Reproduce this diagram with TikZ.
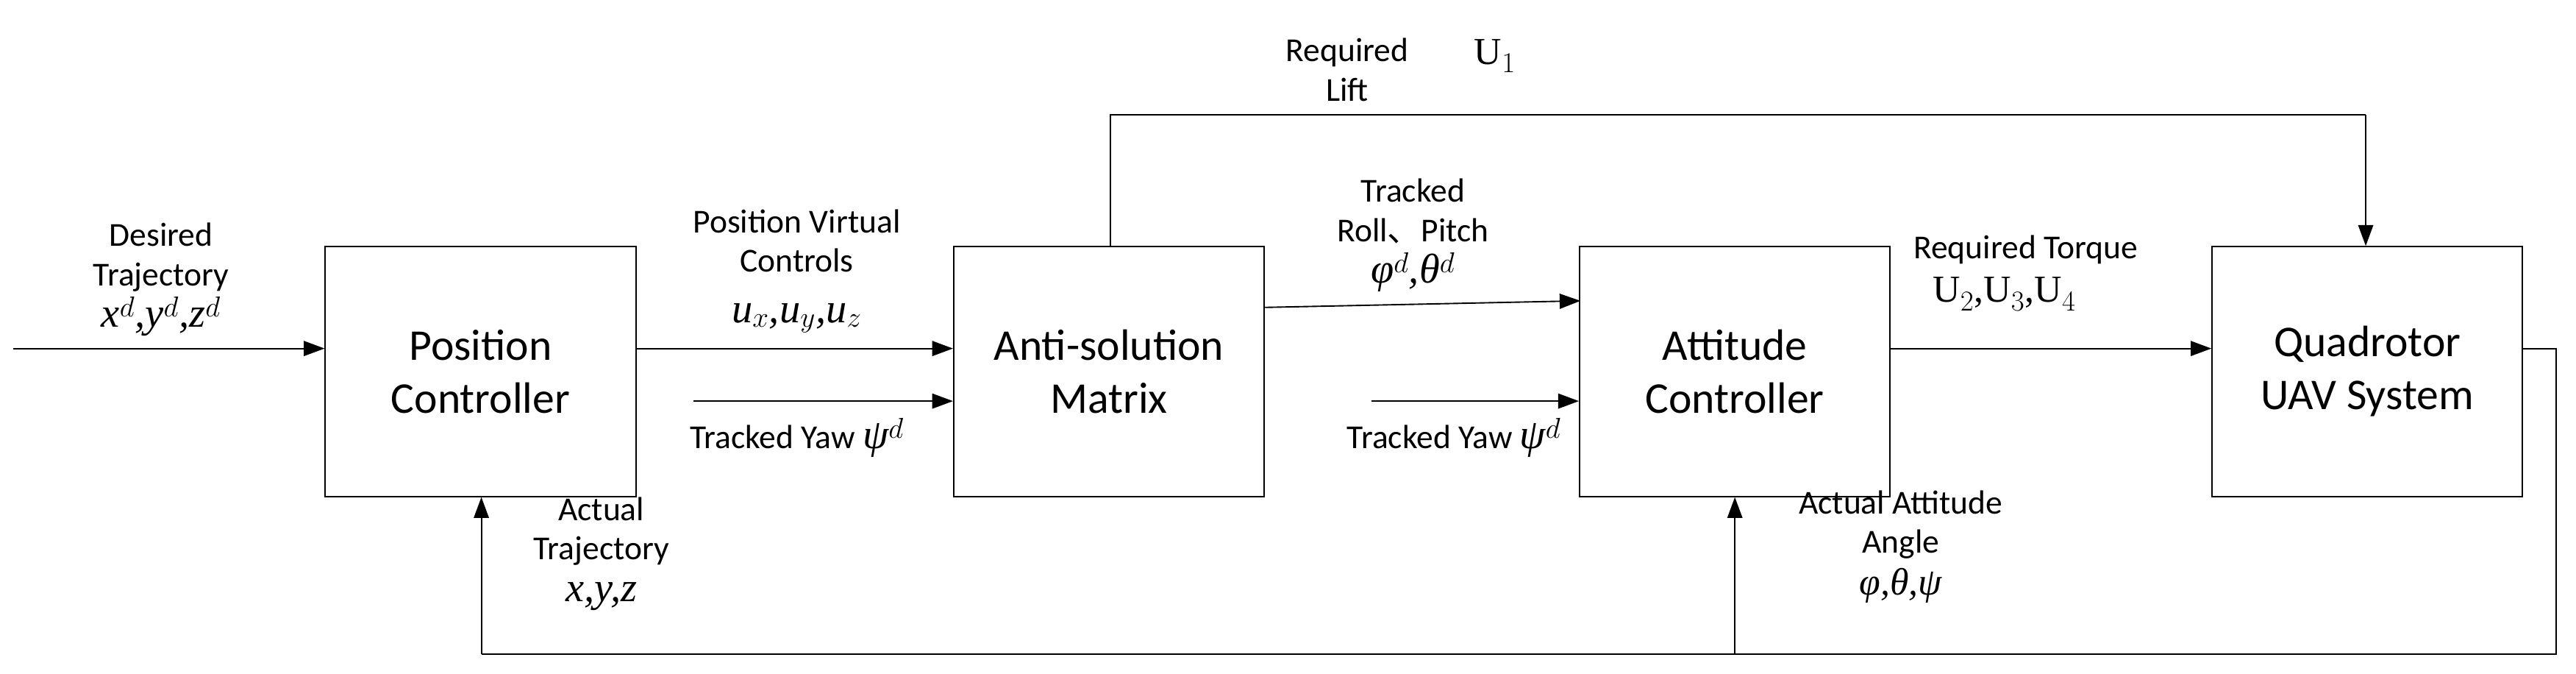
\documentclass[tikz,border=0pt]{standalone}
\usepackage{fontspec}
\setmainfont{Carlito}
\newfontfamily\tms{Liberation Serif}
\newfontfamily\cjk{Noto Sans CJK SC}
\newcommand{\mi}[1]{{\tms\itshape #1}}
\newcommand{\rmt}[1]{{\tms #1}}
\usetikzlibrary{arrows.meta}
\begin{document}
\begin{tikzpicture}[x=0.05cm,y=-0.05cm,
 blk/.style={draw,line width=1.2pt,minimum width=9.45cm,minimum height=7.6cm,align=center,font=\fontsize{38}{46}\selectfont},
 lab/.style={align=center,font=\fontsize{29}{34}\selectfont},
 ar/.style={line width=1.2pt,-{Triangle[length=18pt,width=13pt]}},
 ln/.style={line width=1.2pt}]
\useasboundingbox (0,0) rectangle (1568,409.6);
\node[blk] (pc) at (292.5,226) {Position\\Controller};
\node[blk] (am) at (675,226) {Anti-solution\\Matrix};
\node[blk] (ac) at (1056,226) {Attitude\\Controller};
\node[blk] (qu) at (1441,226) {Quadrotor\\UAV System};
\coordinate (in) at (8,212);
\draw[ar] (in) -- (pc.west|-in);
\node[lab,anchor=south] at (98,207) {Desired\\Trajectory\\[2pt]{\fontsize{36}{36}\selectfont\mi{x$^d$,y$^d$,z$^d$}}};
\draw[ar] (pc.east|-in) -- (am.west|-in);
\node[lab,anchor=south] at (485,205) {Position Virtual\\Controls\\[10pt]{\fontsize{36}{36}\selectfont\mi{u$_x$,u$_y$,u$_z$}}};
\coordinate (y1) at (422,244);
\draw[ar] (y1) -- (am.west|-y1);
\node[lab,anchor=north] at (485,252) {Tracked Yaw \mi{\fontsize{36}{36}\selectfont ψ$^d$}};
\coordinate (a1) at (770,187);
\coordinate (a2) at (962,183);
\draw[ar] (a1) -- (a2);
\node[lab,anchor=south] at (860,180) {Tracked\\Roll{\cjk 、}Pitch\\[2pt]{\fontsize{36}{36}\selectfont\mi{φ$^d$,θ$^d$}}};
\coordinate (y2) at (835,244);
\draw[ar] (y2) -- (ac.west|-y2);
\node[lab,anchor=north] at (885,252) {Tracked Yaw \mi{\fontsize{36}{36}\selectfont ψ$^d$}};
\draw[ar] (ac.east|-in) -- (qu.west|-in);
\node[lab,anchor=south] at (1233,163) {Required Torque};
\node[lab,anchor=north] at (1220,166) {\fontsize{33}{33}\selectfont\rmt{U$_2$,U$_3$,U$_4$}};
\coordinate (l1) at (676,70);
\coordinate (l2) at (1440,70);
\draw[ln] (am.north-|l1) -- (l1) -- (l2);
\draw[ar] (l2) -- (qu.north-|l2);
\node[lab,anchor=south] at (820,64) {Required\\Lift};
\node[lab] at (910,34) {\fontsize{33}{33}\selectfont\rmt{U$_1$}};
\coordinate (f1) at (1556,212);
\coordinate (f2) at (1556,398);
\coordinate (f3) at (293,398);
\coordinate (f4) at (1056,398);
\draw[ln] (qu.east|-f1) -- (f1) -- (f2) -- (f3);
\draw[ar] (f3) -- (pc.south-|f3);
\draw[ar] (f4) -- (ac.south-|f4);
\node[lab,anchor=north] at (366,300) {Actual\\Trajectory\\[2pt]{\fontsize{36}{36}\selectfont\mi{x,y,z}}};
\node[lab,anchor=north] at (1157,296) {Actual Attitude\\Angle\\[2pt]{\fontsize{33}{33}\selectfont\mi{φ,θ,ψ}}};
\end{tikzpicture}
\end{document}
